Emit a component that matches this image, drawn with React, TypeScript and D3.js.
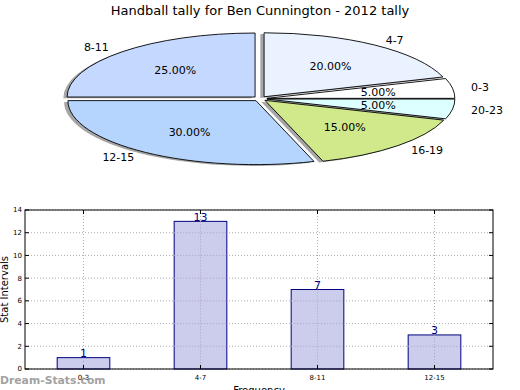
import React, { useEffect, useRef } from 'react';
import * as d3 from 'd3';

// pie data
const pieLabels = ['0-3', '4-7', '8-11', '12-15', '16-19', '20-23'];
const pieValues = [5, 20, 25, 30, 15, 5];
const pieColors = ['#ffffff', '#eaf1ff', '#c5d8ff', '#b5d5ff', '#cfe98b', '#ddffff'];
const pieExplode = [0.037, 0.037, 0.037, 0.037, 0.037, 0.037];

// bar data
const barCategories = ['0-3', '4-7', '8-11', '12-15'];
const barValues = [1, 13, 7, 3];
const yTicks = [0, 2, 4, 6, 8, 10, 12, 14];

const W = 520;
const H = 390;
const FONT = 'DejaVu Sans, sans-serif';

function App() {
  const ref = useRef<SVGSVGElement>(null);

  useEffect(() => {
    const svg = d3.select(ref.current);
    svg.selectAll('*').remove();

    svg.append('text')
      .attr('x', 260).attr('y', 15)
      .attr('text-anchor', 'middle')
      .attr('font-family', FONT).attr('font-size', 13)
      .text('Handball tally for Ben Cunnington - 2012 tally');

    // ---- pie (squashed ellipse, counterclockwise from 3 o'clock) ----
    const cx = 260, cy = 98.7, rx = 188, ry = 64;
    const arcs = d3.pie<number>().sort(null).startAngle(0).endAngle(2 * Math.PI)(pieValues);
    const px = (ox: number, t: number, r = 1) => ox + r * rx * Math.cos(t);
    const py = (oy: number, t: number, r = 1) => oy - r * ry * Math.sin(t);

    const wedge = (ox: number, oy: number, a0: number, a1: number) => {
      const large = a1 - a0 > Math.PI ? 1 : 0;
      return `M${ox},${oy}L${px(ox, a0)},${py(oy, a0)}A${rx},${ry} 0 ${large} 0 ${px(ox, a1)},${py(oy, a1)}Z`;
    };

    const gPie = svg.append('g');
    const total = d3.sum(pieValues);
    const slices = arcs.map((a, i) => {
      const tm = (a.startAngle + a.endAngle) / 2;
      const ox = cx + pieExplode[i] * rx * Math.cos(tm);
      const oy = cy - pieExplode[i] * ry * Math.sin(tm);
      return { a, i, tm, ox, oy };
    });

    // shadows first
    slices.forEach(s => {
      gPie.append('path')
        .attr('d', wedge(s.ox - 0.02 * rx, s.oy + 0.02 * ry, s.a.startAngle, s.a.endAngle))
        .attr('fill', '#7f7f7f').attr('opacity', 0.7);
    });
    slices.forEach(s => {
      gPie.append('path')
        .attr('d', wedge(s.ox, s.oy, s.a.startAngle, s.a.endAngle))
        .attr('fill', pieColors[s.i])
        .attr('stroke', '#000').attr('stroke-width', 0.9);
    });
    slices.forEach(s => {
      const lx = px(s.ox, s.tm, 1.1), ly = py(s.oy, s.tm, 1.1);
      gPie.append('text')
        .attr('x', lx).attr('y', ly)
        .attr('dy', '0.35em')
        .attr('text-anchor', Math.cos(s.tm) < 0 ? 'end' : 'start')
        .attr('font-family', FONT).attr('font-size', 11)
        .text(pieLabels[s.i]);
      gPie.append('text')
        .attr('x', px(s.ox, s.tm, 0.6)).attr('y', py(s.oy, s.tm, 0.6))
        .attr('dy', '0.35em')
        .attr('text-anchor', 'middle')
        .attr('font-family', FONT).attr('font-size', 11)
        .text((pieValues[s.i] / total * 100).toFixed(2) + '%');
    });

    // ---- bar chart ----
    const left = 25, right = 493, top = 210, bottom = 369;
    const x = d3.scaleLinear().domain([-0.5, 3.5]).range([left, right]);
    const y = d3.scaleLinear().domain([0, 14]).range([bottom, top]);
    const bw = 0.45;
    const g = svg.append('g');

    // grid
    yTicks.forEach(t => {
      g.append('line')
        .attr('x1', left).attr('x2', right)
        .attr('y1', y(t)).attr('y2', y(t))
        .attr('stroke', '#b0b0b0').attr('stroke-dasharray', '1,2').attr('stroke-width', 1);
    });
    barCategories.forEach((c, i) => {
      g.append('line')
        .attr('x1', x(i)).attr('x2', x(i))
        .attr('y1', top).attr('y2', bottom)
        .attr('stroke', '#b0b0b0').attr('stroke-dasharray', '1,2').attr('stroke-width', 1);
    });

    // bars
    barValues.forEach((v, i) => {
      g.append('rect')
        .attr('x', x(i - bw / 2)).attr('y', y(v))
        .attr('width', x(bw) - x(0)).attr('height', y(0) - y(v))
        .attr('fill', '#ccccec').attr('stroke', '#000080').attr('stroke-width', 1);
    });
    // grid drawn over the bars too
    barCategories.forEach((c, i) => {
      g.append('line')
        .attr('x1', x(i)).attr('x2', x(i))
        .attr('y1', y(barValues[i])).attr('y2', bottom)
        .attr('stroke', '#a8a8b8').attr('stroke-dasharray', '1,2').attr('stroke-width', 1);
    });
    yTicks.forEach(t => {
      barValues.forEach((v, i) => {
        if (t > 0 && t < v) {
          g.append('line')
            .attr('x1', x(i - bw / 2)).attr('x2', x(i + bw / 2))
            .attr('y1', y(t)).attr('y2', y(t))
            .attr('stroke', '#a8a8b8').attr('stroke-dasharray', '1,2').attr('stroke-width', 1);
        }
      });
    });

    barValues.forEach((v, i) => {
      g.append('text')
        .attr('x', x(i)).attr('y', y(v) - 0.5)
        .attr('text-anchor', 'middle')
        .attr('font-family', FONT).attr('font-size', 11)
        .attr('fill', '#000080')
        .text(v);
    });

    // frame
    g.append('rect')
      .attr('x', left).attr('y', top)
      .attr('width', right - left).attr('height', bottom - top)
      .attr('fill', 'none').attr('stroke', '#000').attr('stroke-width', 1);

    // ticks
    yTicks.forEach(t => {
      g.append('line').attr('x1', left).attr('x2', left + 4).attr('y1', y(t)).attr('y2', y(t)).attr('stroke', '#000');
      g.append('line').attr('x1', right - 4).attr('x2', right).attr('y1', y(t)).attr('y2', y(t)).attr('stroke', '#000');
      g.append('text')
        .attr('x', left - 3).attr('y', y(t)).attr('dy', '0.35em')
        .attr('text-anchor', 'end')
        .attr('font-family', FONT).attr('font-size', 7)
        .text(t);
    });
    barCategories.forEach((c, i) => {
      g.append('line').attr('x1', x(i)).attr('x2', x(i)).attr('y1', bottom).attr('y2', bottom - 4).attr('stroke', '#000');
      g.append('line').attr('x1', x(i)).attr('x2', x(i)).attr('y1', top).attr('y2', top + 4).attr('stroke', '#000');
      g.append('text')
        .attr('x', x(i)).attr('y', bottom + 11)
        .attr('text-anchor', 'middle')
        .attr('font-family', FONT).attr('font-size', 7)
        .text(c);
    });

    svg.append('text')
      .attr('transform', `translate(8,${(top + bottom) / 2}) rotate(-90)`)
      .attr('text-anchor', 'middle')
      .attr('font-family', FONT).attr('font-size', 10)
      .text('Stat Intervals');

    svg.append('text')
      .attr('x', (left + right) / 2).attr('y', 394)
      .attr('text-anchor', 'middle')
      .attr('font-family', FONT).attr('font-size', 10)
      .text('Frequency');

    svg.append('text')
      .attr('x', 0).attr('y', 384)
      .attr('font-family', FONT).attr('font-size', 10.8).attr('font-weight', 'bold')
      .attr('fill', '#999999').attr('opacity', 0.9)
      .text('Dream-Stats.com');
  }, []);

  return (
    <svg ref={ref} width={W} height={H}
      style={{ position: 'absolute', left: 0, top: 0, background: '#fff' }} />
  );
}

export default App;
